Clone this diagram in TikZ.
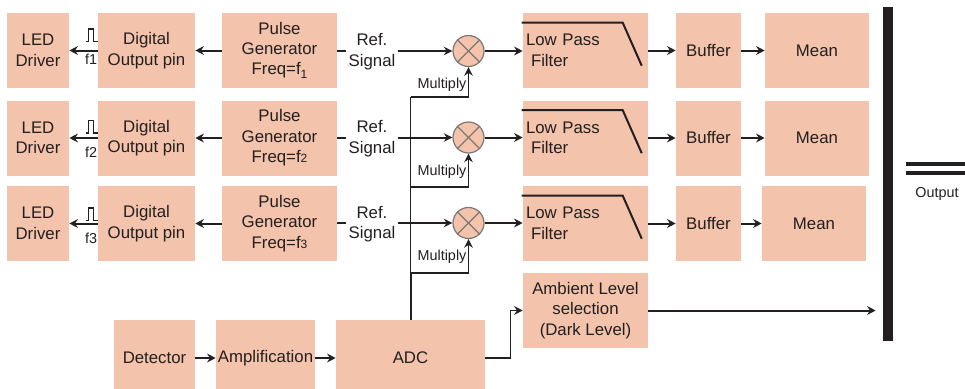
\documentclass[tikz,border=0pt]{standalone}
\usepackage{fontspec}
\setmainfont{Liberation Sans}
\usetikzlibrary{arrows.meta,calc}
\definecolor{boxfill}{RGB}{243,195,171}
\definecolor{ink}{RGB}{35,31,32}
\definecolor{ringgray}{RGB}{125,120,118}
\newcommand\mainsz{\fontsize{12.6}{15.3}\selectfont}
\newcommand\smallsz{\fontsize{10.8}{12}\selectfont}
\newcommand\subsz{\fontsize{9}{9}\selectfont}
\begin{document}
\begin{tikzpicture}[x=0.75pt,y=-0.75pt,
  every node/.style={text=ink},
  blk/.style={fill=boxfill,inner sep=0pt,align=center,minimum height=56.25pt,font=\mainsz},
  bw/.style={minimum width=#1},
  lpfbox/.style={blk,minimum width=93.75pt,text width=89.25pt,align=left},
  mult/.style={circle,draw=ringgray,fill=boxfill,line width=0.9pt,minimum size=23.25pt,inner sep=0pt},
  lbl/.style={inner xsep=1.5pt,inner ysep=0pt,align=center,font=\mainsz},
  smalltext/.style={inner sep=0pt,font=\smallsz},
  tip/.style={-{Stealth[length=6.5pt,width=6.5pt,inset=2.2pt]}},
  arr/.style={draw=ink,line width=1.5pt,tip},
  wire/.style={draw=ink,line width=1.5pt},
  fine/.style={draw=ink,line width=1pt},
  finearr/.style={fine,tip},
  pulse/.style={draw=ink,line width=0.8pt},
  cross/.style={draw=ringgray,line width=0.9pt},
]
\clip (0,0) rectangle (965,389);

% ---- channel 1 ----
\node[blk,bw=46.5pt]  (led1)  at (38,50.5)    {LED\\Driver};
\node[blk,bw=72.75pt] (dig1)  at (146.5,50.5) {Digital\\Output pin};
\node[blk,bw=86.25pt] (pg1)   at (279.5,50.5) {Pulse\\Generator\\Freq=f\raisebox{-0.45ex}{\subsz 1}};
\node[lbl]            (ref1)  at (372,51.5)   {Ref.\\Signal};
\node[mult]           (m1)    at (468.5,51)   {};
\node[lpfbox]         (lpf1)  at (585.5,50.5) {Low Pass\\\hspace*{3.75pt}Filter};
\node[blk,bw=48.75pt] (buf1)  at (708.5,50.5) {Buffer};
\node[blk,bw=78pt]    (mean1) at (817,50.5)   {Mean};

% ---- channel 2 ----
\node[blk,bw=46.5pt]  (led2)  at (38,138)    {LED\\Driver};
\node[blk,bw=72.75pt] (dig2)  at (146.5,138) {Digital\\Output pin};
\node[blk,bw=86.25pt] (pg2)   at (279.5,138) {Pulse\\Generator\\Freq=f{\subsz 2}};
\node[lbl]            (ref2)  at (372,138.5) {Ref.\\Signal};
\node[mult]           (m2)    at (468.5,137.5) {};
\node[lpfbox]         (lpf2)  at (585.5,138) {Low Pass\\\hspace*{3.75pt}Filter};
\node[blk,bw=48.75pt] (buf2)  at (708.5,138) {Buffer};
\node[blk,bw=78pt]    (mean2) at (817,138)   {Mean};

% ---- channel 3 ----
\node[blk,bw=46.5pt]  (led3)  at (38,223.5)    {LED\\Driver};
\node[blk,bw=72.75pt] (dig3)  at (146.5,223.5) {Digital\\Output pin};
\node[blk,bw=86.25pt] (pg3)   at (279.5,223.5) {Pulse\\Generator\\Freq=f{\subsz 3}};
\node[lbl]            (ref3)  at (372,224)     {Ref.\\Signal};
\node[mult]           (m3)    at (468.5,223)   {};
\node[lpfbox]         (lpf3)  at (585.5,223.5) {Low Pass\\\hspace*{3.75pt}Filter};
\node[blk,bw=48.75pt] (buf3)  at (708.5,223.5) {Buffer};
\node[blk,bw=78pt]    (mean3) at (814,223.5)   {Mean};

% ---- acquisition chain ----
\node[blk,bw=60.75pt,minimum height=57pt]  (det) at (154.5,358) {Detector};
\node[blk,bw=74.25pt,minimum height=57pt]  (amp) at (265.5,358) {Amplification};
\node[blk,bw=111.75pt,minimum height=57pt] (adc) at (410.5,358) {ADC};
\node[blk,bw=93.75pt] (amb) at (585.5,310.5) {Ambient Level\\selection\\(Dark Level)};

% output bus
\node[fill=ink,inner sep=0pt,minimum width=7.5pt,minimum height=250.5pt] (bar) at (888,174) {};
\draw[ink,line width=2.4pt] (906,164) -- (966,164);
\draw[ink,line width=2.4pt] (906,173) -- (966,173);
\node[smalltext] (outlbl) at (937,194) {Output};

% ---- per-channel connectors ----
\foreach \k/\pb/\fo in {1/-9/8.5, 2/-5/14, 3/-3/14.5}{
  \draw[arr] (dig\k.west) -- (led\k.east);
  \draw[arr] (pg\k.west) -- (dig\k.east);
  \draw[pulse] ($(dig\k.west)+(-12,\pb)$) -- ++(3,0) -- ++(0,-12.5) -- ++(5,0) -- ++(0,12.5) -- ++(4,0);
  \node[smalltext] (f\k) at ($(dig\k.west)+(-6.5,\fo)$) {f\k};
  \draw[wire] (pg\k.east |- m\k) -- (ref\k.west |- m\k);
  \draw[arr] (ref\k.east |- m\k) -- (m\k.west);
  \draw[cross] (m\k.north west) -- (m\k.south east);
  \draw[cross] (m\k.north east) -- (m\k.south west);
  \draw[arr] (m\k.east) -- (lpf\k.west |- m\k);
  \draw[line width=1.5pt,ink] ($(lpf\k.north west)+(-1,10)$) -- ++(101,0) -- ++(19,43);
  \draw[arr] (lpf\k.east) -- (buf\k.west);
  \draw[arr] (buf\k.east) -- (mean\k.west);
}

% reference distribution from the ADC to the multipliers
\coordinate (j1) at (410.5,97);
\coordinate (j2) at (410.5,187);
\coordinate (j3) at (410.5,273);
\draw[wire] (adc.north) -- (j3);
\draw[fine] (j3) -- (j1);
\draw[finearr] (j1) -| (m1.south);
\draw[finearr] (j2) -| (m2.south);
\draw[finearr] (j3) -| (m3.south);
\node[smalltext] (mul1) at (442,85)  {Multiply};
\node[smalltext] (mul2) at (442,172) {Multiply};
\node[smalltext] (mul3) at (442,257) {Multiply};

% acquisition connectors
\draw[arr] (det.east) -- (amp.west);
\draw[arr] (amp.east) -- (adc.west);
\draw[finearr] (adc.east) -- ++(25,0) |- (amb.west);
\coordinate (busin) at ($(bar.west |- amb.east)+(-7,0)$);
\draw[arr] (amb.east) -- (busin);
\end{tikzpicture}
\end{document}
